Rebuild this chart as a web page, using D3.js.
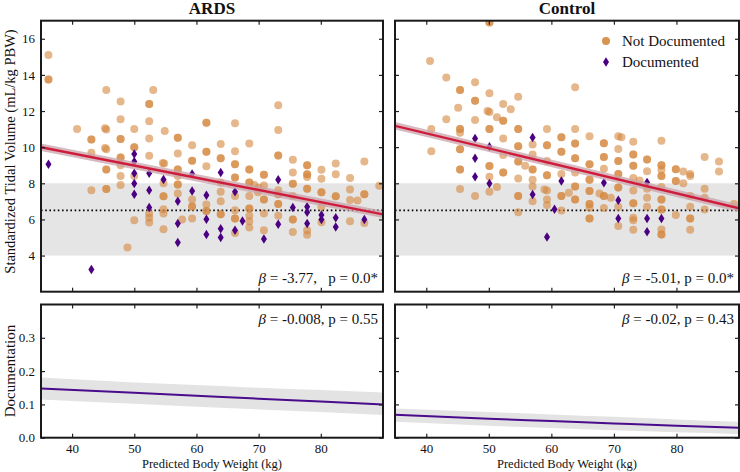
<!DOCTYPE html>
<html><head><meta charset="utf-8">
<script src="https://cdn.jsdelivr.net/npm/d3@7"></script>
<style>body{margin:0;background:#fff}svg{display:block}text{font-family:"Liberation Serif","Times New Roman",serif;fill:#111;white-space:pre}</style>
</head><body><svg id="c" width="740" height="472"></svg>
<script>
// ---------------- DATA ----------------
const panelTitles = ["ARDS", "Control"];
const xTicks = [40, 50, 60, 70, 80];
const yTicksTop = [4, 6, 8, 10, 12, 14, 16];
const yTicksBottom = [0.0, 0.1, 0.2, 0.3];
const legendLabels = ["Not Documented", "Documented"];
const targetBand = [4, 8];
const targetLine = 6.5;

// ARDS – not documented [PBW, Vt]
const ardsNotDoc = [
 [36.2,15.1],[36.2,13.75],[36.2,13.75],[40.8,11.0],[43.1,10.43],[43.1,10.43],[43.1,9.69],[43.1,7.62],
 [45.5,13.16],[45.3,11.05],[45.5,10.98],[45.3,9.95],[45.5,9.88],[45.5,8.77],[45.5,8.77],[45.5,7.68],[45.5,7.68],
 [47.8,12.53],[47.8,11.54],[47.8,10.45],[47.8,10.45],[47.8,9.43],[47.8,9.43],[47.8,9.0],[47.8,8.4],[47.8,7.9],
 [48.9,4.45],[50.0,11.0],[50.0,9.99],[50.0,9.99],[50.0,8.4],[50.0,5.96],
 [52.4,12.39],[52.4,12.39],[52.4,11.44],[52.4,10.48],[52.4,9.52],[52.4,6.33],[52.4,6.1],[52.4,5.83],[53.05,13.16],
 [54.9,10.89],[54.6,9.13],[54.8,9.1],[54.7,8.0],[54.7,7.29],[54.7,7.29],[54.7,6.57],[54.7,6.33],[54.7,5.46],
 [57.0,10.52],[57.0,10.52],[57.0,9.65],[57.0,8.77],[57.0,8.77],[57.0,8.4],[57.0,7.94],[57.0,7.94],[57.0,7.44],[57.7,6.0],
 [59.3,10.11],[59.3,9.25],[59.3,9.25],[59.3,7.1],[59.3,6.71],[59.3,6.71],[59.3,6.05],
 [61.6,11.35],[61.6,11.35],[61.6,9.74],[61.6,9.74],[61.6,8.95],[61.6,6.83],[61.6,6.47],[61.6,6.47],
 [63.9,10.17],[63.9,9.39],[63.9,9.39],[63.9,8.05],[63.9,7.53],[63.9,7.0],[63.9,6.29],[63.9,6.29],
 [66.2,11.32],[66.2,9.78],[66.2,9.06],[66.2,9.06],[66.2,8.32],[66.2,8.32],[66.2,7.3],[66.2,6.51],[66.2,6.05],[66.2,6.05],[66.2,5.25],
 [68.5,10.2],[68.5,8.77],[68.5,8.77],[68.5,8.05],[68.5,8.05],[68.5,7.3],[68.5,6.6],[68.5,6.6],[68.5,6.2],[68.5,5.9],[68.5,5.55],
 [69.3,7.9],[70.0,7.75],[69.9,7.5],
 [70.85,8.47],[70.85,8.47],[70.85,7.88],[70.85,7.1],[70.85,7.1],[70.85,6.33],[70.85,5.4],
 [73.15,12.32],[73.15,10.95],[73.15,9.54],[73.15,9.54],[73.15,7.62],[73.15,7.4],[73.15,7.4],[73.15,6.85],[73.15,6.85],[73.15,6.2],
 [75.5,9.3],[75.5,8.6],[75.5,7.97],[75.5,7.97],[75.5,7.3],[75.5,6.0],[75.5,6.0],[75.5,5.3],
 [77.8,9.0],[77.8,9.0],[77.8,8.5],[77.8,8.5],[77.8,8.35],[77.8,7.7],[77.8,7.7],[77.8,5.4],[77.8,5.15],
 [80.1,8.75],[80.1,8.25],[80.1,7.5],[80.1,7.5],[80.1,6.7],[80.1,5.85],
 [82.4,9.1],[82.4,8.5],[82.4,7.28],[82.4,7.28],
 [84.7,8.3],[84.7,7.65],[84.7,7.08],[85.9,7.05],[84.7,5.9],
 [87.0,9.2],[87.0,7.4],[87.0,7.4],[87.0,5.8],[89.4,7.86]
];
// ARDS – documented
const ardsDoc = [
 [36.2,9.06],[43.1,3.23],[50.0,9.62],[50.0,9.21],[50.0,8.55],[50.0,7.99],[50.0,7.40],
 [52.4,8.55],[52.4,7.62],[52.4,6.66],[54.7,8.21],[57.0,7.0],[57.0,5.78],[57.0,4.72],
 [59.3,8.51],[59.3,7.58],[61.6,7.34],[61.6,6.01],[61.6,5.17],[63.9,8.6],[63.9,5.48],[63.9,5.0],
 [66.2,7.53],[66.2,5.40],[67.4,5.92],[70.85,4.92],[73.15,8.2],[73.15,5.74],[75.5,6.66],
 [77.8,6.7],[77.8,6.4],[77.8,5.78],[80.1,6.25],[80.1,6.0],[82.4,6.1],[82.4,5.58],[87.0,6.0]
];
// Control – not documented
const ctrlNotDoc = [
 [50.1,16.9],[50.1,16.9],[40.6,14.77],[40.8,11.0],[40.8,9.78],[43.2,13.86],[43.2,11.55],
 [45.4,13.16],[45.4,13.16],[45.1,12.18],[45.4,11.0],[45.4,11.0],[45.4,10.8],[45.4,9.88],[45.4,9.88],[45.4,8.77],[45.4,8.77],[45.4,7.68],
 [47.8,13.59],[47.8,12.57],[47.8,12.57],[47.8,11.5],[47.8,7.3],
 [50.1,12.98],[49.8,12.0],[50.1,11.95],[50.1,11.0],[50.1,11.0],[50.1,8.96],[50.1,8.96],[50.1,8.36],[50.1,7.53],
 [51.3,11.65],[51.3,7.8],[52.3,12.39],[52.3,11.46],[52.3,11.46],[52.3,10.48],[52.3,9.57],[52.3,8.6],[52.3,8.6],[53.5,12.1],
 [54.7,12.79],[54.7,11.0],[54.7,11.0],[54.7,10.05],[54.7,10.05],[54.7,9.2],[54.7,9.2],[54.7,8.27],[54.7,7.3],[54.7,7.3],[54.7,6.4],
 [55.8,8.97],[57.0,10.15],[57.0,9.6],[57.0,8.77],[57.0,8.77],[57.0,8.2],[57.0,7.82],[57.0,7.0],
 [59.3,11.0],[59.3,10.1],[59.3,10.1],[59.3,9.23],[59.3,8.44],[59.3,8.44],[58.9,7.65],[59.3,7.6],[59.3,7.1],[59.3,6.8],
 [61.6,10.55],[61.6,10.55],[61.6,9.74],[61.6,9.74],[61.6,8.52],[61.6,7.3],[61.6,7.3],[61.6,6.5],[62.8,7.48],
 [63.8,13.31],[63.8,11.0],[63.8,10.2],[63.8,10.2],[63.8,9.39],[63.8,9.39],[63.8,8.6],[63.8,7.82],[63.8,7.82],[63.8,7.1],[63.8,7.1],
 [66.1,10.6],[66.1,9.06],[66.1,9.06],[66.1,8.2],[66.1,8.2],[66.1,7.58],[66.1,7.58],[66.1,6.85],[66.1,6.85],[66.1,6.65],[66.1,6.05],[66.1,6.05],
 [67.7,7.43],[68.4,10.22],[68.4,10.22],[68.4,9.45],[68.4,9.45],[68.4,8.8],[68.4,7.3],[68.4,7.3],[68.4,6.63],[69.5,7.2],
 [70.7,10.6],[71.2,10.55],[70.7,9.9],[70.7,9.23],[70.7,9.23],[70.7,8.52],[70.7,8.52],[70.7,7.77],[70.7,7.77],[70.7,6.7],[70.7,5.63],
 [73.1,10.3],[73.1,9.6],[73.1,9.6],[73.1,8.97],[73.1,8.97],[73.1,8.3],[73.1,7.6],[73.1,6.9],[73.1,6.9],[73.1,6.1],[73.1,5.95],[73.1,5.43],
 [74.1,8.15],[75.3,9.32],[75.3,9.32],[75.3,8.67],[75.3,7.7],[75.3,7.2],[75.3,6.7],
 [77.6,10.35],[77.6,9.0],[77.6,9.0],[77.6,8.75],[77.6,8.4],[77.6,8.4],[77.6,7.8],[77.6,7.1],[77.6,7.1],[77.6,6.55],[77.6,6.55],[77.6,5.44],[77.6,5.17],[77.6,5.17],
 [79.9,8.78],[79.9,8.78],[79.9,8.13],[79.9,8.13],[79.9,6.25],[81.1,8.65],[81.1,8.0],
 [82.2,8.52],[82.2,8.4],[82.2,7.3],[82.2,6.7],[82.2,6.05],[82.2,6.05],[82.2,5.43],
 [84.5,9.45],[84.5,7.7],[84.5,7.2],[84.5,6.55],[86.8,9.2],[86.8,8.65],[89.2,6.85]
];
// Control – documented
const ctrlDoc = [
 [47.8,10.48],[47.8,9.39],[47.8,8.36],[50.1,10.02],[50.1,7.99],[57.0,10.54],[57.0,7.38],
 [59.3,5.03],[60.5,6.57],[61.6,8.13],[68.4,8.03],[70.7,7.06],[70.7,6.05],
 [75.3,8.05],[75.3,6.05],[75.3,5.32],[77.6,6.05]
];

// regression fits : [PBW, fitted, lower, upper]
const ardsFit = [[35,10.0,9.86,10.14],[90,6.28,6.14,6.42]];
const ctrlFit = [[35,11.18,11.04,11.32],[90,6.62,6.48,6.76]];
const ardsProb = [[35,0.148,0.115,0.181],[50,0.135,0.102,0.166],[60,0.126,0.093,0.158],[70,0.117,0.085,0.150],[80,0.109,0.077,0.143],[90,0.100,0.068,0.136]];
const ctrlProb = [[35,0.069,0.048,0.088],[50,0.057,0.036,0.077],[60,0.050,0.029,0.070],[70,0.043,0.022,0.063],[80,0.036,0.016,0.055],[90,0.030,0.011,0.048]];

const statsTop = [["-3.77", ",   p = 0.0*"], ["-5.01", ", p = 0.0*"]];
const statsBottom = [["-0.008", ", p = 0.55"], ["-0.02", ", p = 0.43"]];

// ---------------- DRAW ----------------
const svg = d3.select("#c");
const orange = "#d3873d", purple = "#4b0082", red = "#d01c3c", line2 = "#4a0c8c";
const cols = [{x0:41, x1:383}, {x0:395, x1:739}];
const topY = [20.7, 291.7], botY = [304.5, 437.7];
const scatter = [[ardsNotDoc, ardsDoc], [ctrlNotDoc, ctrlDoc]];
const fits = [ardsFit, ctrlFit], probs = [ardsProb, ctrlProb];

const diamond = (cx, cy, w, h) => `M${cx},${cy-h/2}L${cx+w/2},${cy}L${cx},${cy+h/2}L${cx-w/2},${cy}Z`;

cols.forEach((c, i) => {
  const x = d3.scaleLinear().domain([35, 90]).range([c.x0, c.x1]);
  const yT = d3.scaleLinear().domain([2, 17]).range([topY[1], topY[0]]);
  const yB = d3.scaleLinear().domain([0, 0.4]).range([botY[1], botY[0]]);

  const defs = svg.append("defs");
  defs.append("clipPath").attr("id", "ct" + i).append("rect")
    .attr("x", c.x0).attr("y", topY[0]).attr("width", c.x1 - c.x0).attr("height", topY[1] - topY[0]);
  defs.append("clipPath").attr("id", "cb" + i).append("rect")
    .attr("x", c.x0).attr("y", botY[0]).attr("width", c.x1 - c.x0).attr("height", botY[1] - botY[0]);

  // ---- top panel
  const gT = svg.append("g").attr("clip-path", `url(#ct${i})`);
  gT.append("rect").attr("x", c.x0).attr("width", c.x1 - c.x0)
    .attr("y", yT(targetBand[1])).attr("height", yT(targetBand[0]) - yT(targetBand[1]))
    .attr("fill", "#e5e5e5");
  gT.append("line").attr("x1", c.x0).attr("x2", c.x1).attr("y1", yT(targetLine)).attr("y2", yT(targetLine))
    .attr("stroke", "#000").attr("stroke-width", 1.6).attr("stroke-dasharray", "1.6,2.6");
  gT.selectAll("circle.nd").data(scatter[i][0]).join("circle")
    .attr("cx", d => x(d[0])).attr("cy", d => yT(d[1])).attr("r", 4)
    .attr("fill", orange).attr("fill-opacity", 0.6);
  gT.selectAll("path.dc").data(scatter[i][1]).join("path")
    .attr("d", d => diamond(x(d[0]), yT(d[1]), 6, 9.5)).attr("fill", purple);
  const fit = fits[i];
  gT.append("path").datum(fit)
    .attr("d", d3.area().x(d => x(d[0])).y0(d => yT(d[2]) + 1.2).y1(d => yT(d[3]) - 1.2))
    .attr("fill", "#c8a3aa").attr("opacity", 0.75);
  gT.append("path").datum(fit)
    .attr("d", d3.line().x(d => x(d[0])).y(d => yT(d[1])))
    .attr("fill", "none").attr("stroke", red).attr("stroke-width", 2.4);

  // ---- bottom panel
  const gB = svg.append("g").attr("clip-path", `url(#cb${i})`);
  const pr = probs[i];
  gB.append("path").datum(pr)
    .attr("d", d3.area().curve(d3.curveMonotoneX).x(d => x(d[0])).y0(d => yB(d[2])).y1(d => yB(d[3])))
    .attr("fill", "#e3e3e3");
  gB.append("path").datum(pr)
    .attr("d", d3.line().curve(d3.curveMonotoneX).x(d => x(d[0])).y(d => yB(d[1])))
    .attr("fill", "none").attr("stroke", line2).attr("stroke-width", 2);

  // ---- axes
  const axStyle = g => { g.select(".domain").remove(); g.selectAll("line").attr("stroke", "#222").attr("stroke-width", 1.2);
    g.selectAll("text").style("font-family", '"Liberation Serif",serif').style("font-size", "13px").attr("fill", "#111"); };
  const blank = () => "";
  svg.append("g").attr("transform", `translate(0,${topY[0]})`).call(d3.axisTop(x).tickValues(xTicks).tickSize(-4).tickFormat(blank)).call(axStyle);
  svg.append("g").attr("transform", `translate(0,${topY[1]})`).call(d3.axisBottom(x).tickValues(xTicks).tickSize(-4).tickFormat(blank)).call(axStyle);
  svg.append("g").attr("transform", `translate(${c.x0},0)`).call(d3.axisLeft(yT).tickValues(yTicksTop).tickSize(-4).tickPadding(6).tickFormat(i === 0 ? d3.format("d") : blank)).call(axStyle);
  svg.append("g").attr("transform", `translate(${c.x1},0)`).call(d3.axisRight(yT).tickValues(yTicksTop).tickSize(-4).tickFormat(blank)).call(axStyle);
  svg.append("g").attr("transform", `translate(0,${botY[0]})`).call(d3.axisTop(x).tickValues(xTicks).tickSize(-4).tickFormat(blank)).call(axStyle);
  svg.append("g").attr("transform", `translate(0,${botY[1]})`).call(d3.axisBottom(x).tickValues(xTicks).tickSize(-4).tickPadding(6).tickFormat(d3.format("d"))).call(axStyle);
  svg.append("g").attr("transform", `translate(${c.x0},0)`).call(d3.axisLeft(yB).tickValues(yTicksBottom).tickSize(-4).tickPadding(6).tickFormat(i === 0 ? d3.format(".1f") : blank)).call(axStyle);
  svg.append("g").attr("transform", `translate(${c.x1},0)`).call(d3.axisRight(yB).tickValues(yTicksBottom).tickSize(-4).tickFormat(blank)).call(axStyle);

  [topY, botY].forEach(yy => svg.append("rect").attr("x", c.x0).attr("y", yy[0]).attr("width", c.x1 - c.x0).attr("height", yy[1] - yy[0])
    .attr("fill", "none").attr("stroke", "#1a1a1a").attr("stroke-width", 2));

  svg.append("text").attr("x", (c.x0 + c.x1) / 2).attr("y", 14).attr("text-anchor", "middle")
    .style("font-size", "17px").style("font-weight", "bold").text(panelTitles[i]);

  const st = (yPos, s) => {
    const t = svg.append("text").attr("x", c.x1 - 5).attr("y", yPos).attr("text-anchor", "end")
      .attr("xml:space", "preserve").style("font-size", "15px");
    t.append("tspan").style("font-style", "italic").text("β");
    t.append("tspan").text(" = " + s[0] + s[1]);
  };
  st(283, statsTop[i]);
  st(324, statsBottom[i]);

  svg.append("text").attr("x", (c.x0 + c.x1) / 2).attr("y", 468).attr("text-anchor", "middle")
    .style("font-size", "12.5px").text("Predicted Body Weight (kg)");
});

svg.append("text").attr("transform", "translate(15,151.5) rotate(-90)").attr("text-anchor", "middle")
  .style("font-size", "14.5px").text("Standardized Tidal Volume (mL/kg PBW)");
svg.append("text").attr("transform", "translate(15,371) rotate(-90)").attr("text-anchor", "middle")
  .style("font-size", "15px").text("Documentation");

const lg = svg.append("g");
lg.append("circle").attr("cx", 606).attr("cy", 41).attr("r", 4).attr("fill", orange).attr("fill-opacity", 0.9);
lg.append("text").attr("x", 622).attr("y", 46).style("font-size", "15px").text(legendLabels[0]);
lg.append("path").attr("d", diamond(606, 62, 6, 9.5)).attr("fill", purple);
lg.append("text").attr("x", 622).attr("y", 67).style("font-size", "15px").text(legendLabels[1]);
</script></body></html>
